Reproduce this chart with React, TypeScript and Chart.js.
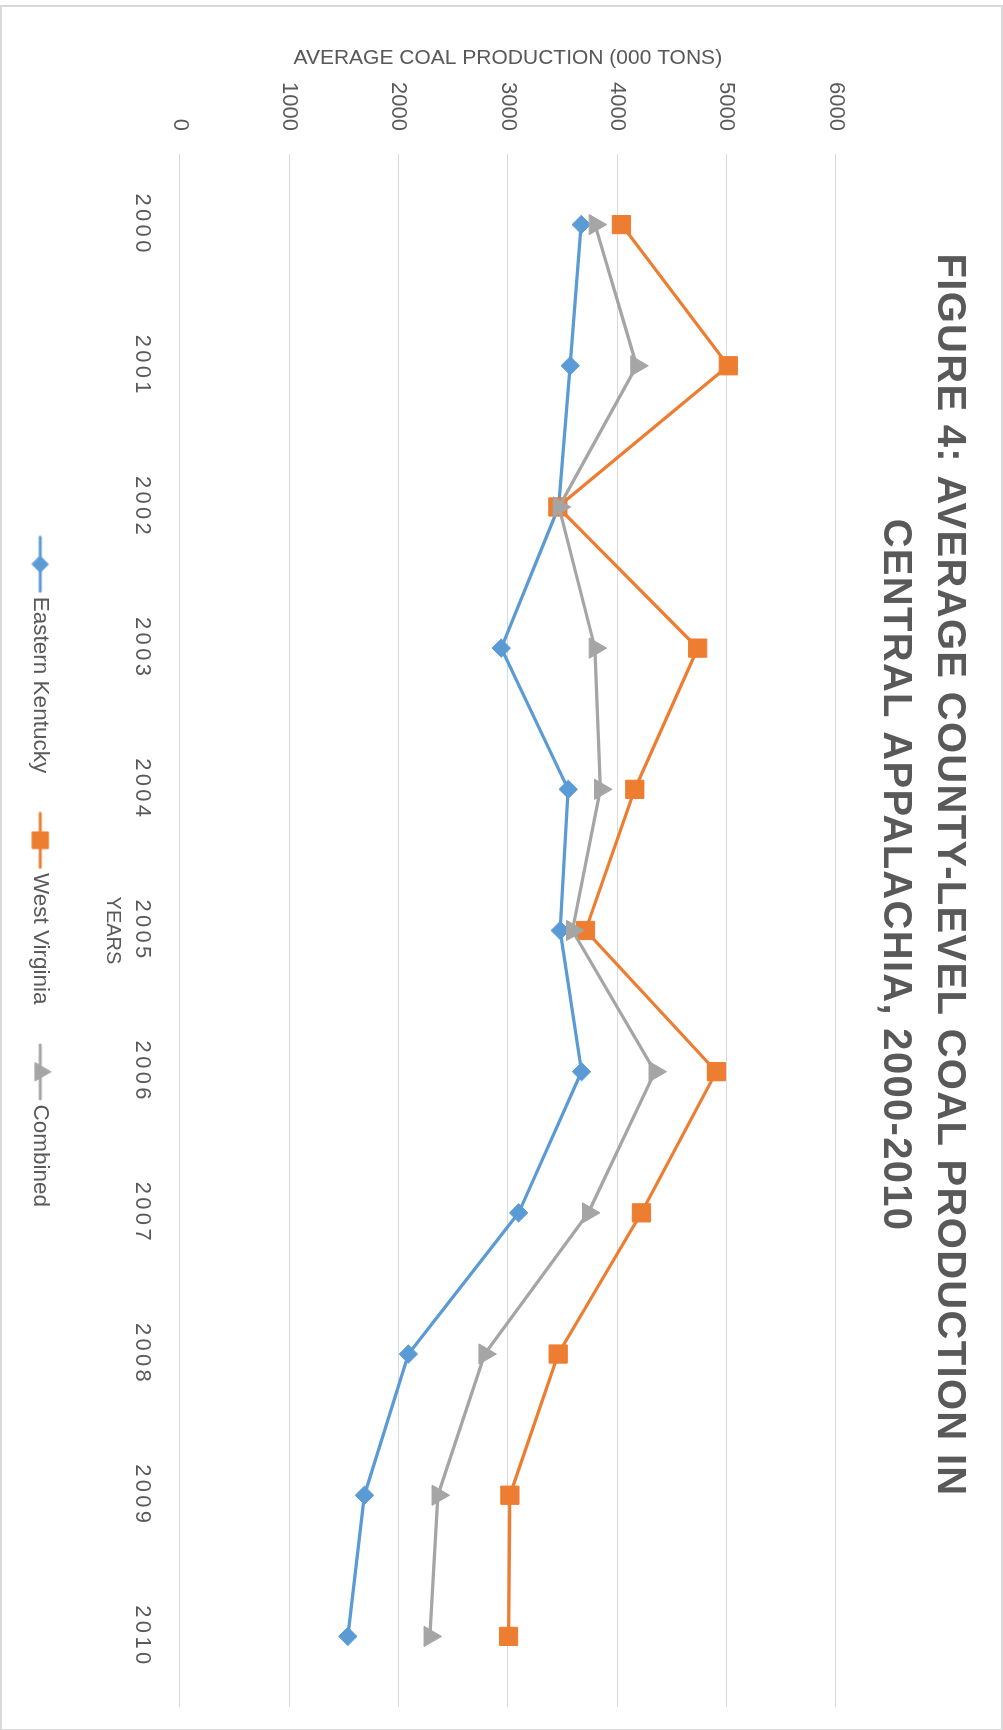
import React, { useEffect, useRef } from 'react';
import { Chart, registerables } from 'chart.js';
import { drawPoint } from 'chart.js/helpers';

Chart.register(...registerables);

// ---- data ----
const years = ['2000', '2001', '2002', '2003', '2004', '2005', '2006', '2007', '2008', '2009', '2010'];
const easternKentucky = [3672, 3571, 3465, 2940, 3553, 3480, 3675, 3099, 2090, 1688, 1536];
const westVirginia = [4040, 5018, 3458, 4738, 4162, 3711, 4909, 4223, 3461, 3019, 3007];
const combined = [3798, 4179, 3469, 3798, 3847, 3591, 4346, 3737, 2789, 2360, 2287];
const valueMin = 0;
const valueMax = 6000;
const valueStep = 1000;
const titleLines = ['FIGURE 4: AVERAGE COUNTY-LEVEL COAL PRODUCTION IN', 'CENTRAL APPALACHIA, 2000-2010'];
const seriesNames = ['Eastern Kentucky', 'West Virginia', 'Combined'];

const BLUE = '#5B9BD5';
const ORANGE = '#ED7D31';
const GRAY = '#A5A5A5';
const TEXT = '#595959';
const GRID = '#D9D9D9';
const FONT = "'Liberation Sans', Arial, sans-serif";

function legendIcon(color: string, style: string, radius: number) {
  const c = document.createElement('canvas');
  c.width = 58;
  c.height = 26;
  const g = c.getContext('2d')!;
  g.strokeStyle = color;
  g.lineWidth = 3;
  g.lineCap = 'round';
  g.beginPath();
  g.moveTo(2, 13);
  g.lineTo(56, 13);
  g.stroke();
  g.fillStyle = color;
  g.lineWidth = 1;
  drawPoint(g as any, { pointStyle: style as any, radius, borderWidth: 1, rotation: 0 } as any, 29, 13);
  return c;
}

function wrapWithSpacing(obj: any, method: string, spacing: string) {
  if (!obj || obj['__spaced_' + method]) return;
  const orig = obj[method].bind(obj);
  obj[method] = (...args: any[]) => {
    const ctx = obj.ctx;
    ctx.save();
    (ctx as any).letterSpacing = spacing;
    orig(...args);
    ctx.restore();
  };
  obj['__spaced_' + method] = true;
}

const spacingPlugin = {
  id: 'letterSpacing',
  beforeDraw(chart: any) {
    wrapWithSpacing(chart.scales.x, 'drawLabels', '3.3px');
    wrapWithSpacing(chart.titleBlock, 'draw', '1.3px');
  },
};

export default function App() {
  const ref = useRef<HTMLCanvasElement>(null);

  useEffect(() => {
    const canvas = ref.current!;
    const icons = [
      legendIcon(BLUE, 'rectRot', 8.3),
      legendIcon(ORANGE, 'rect', 11.5),
      legendIcon(GRAY, 'triangle', 10.5),
    ];
    const colors = [BLUE, ORANGE, GRAY];

    const ds = (i: number, data: number[], style: string, r: number, order: number) => ({
      label: seriesNames[i],
      data,
      borderColor: colors[i],
      backgroundColor: colors[i],
      borderWidth: 3.25,
      tension: 0,
      pointStyle: style,
      pointRadius: r,
      pointHoverRadius: r,
      pointBorderWidth: 1,
      pointBackgroundColor: colors[i],
      pointBorderColor: colors[i],
      order,
      xAxisID: 'x',
      yAxisID: 'y',
    });

    const chart = new Chart(canvas, {
      type: 'line',
      data: {
        labels: years,
        datasets: [
          ds(0, easternKentucky, 'rectRot', 9.2, 3),
          ds(1, westVirginia, 'rect', 12.9, 2),
          ds(2, combined, 'triangle', 11.7, 1),
        ] as any,
      },
      options: {
        animation: false,
        responsive: false,
        events: [],
        layout: { padding: { left: 14, right: 0, top: 0, bottom: 17 } },
        plugins: {
          title: {
            display: true,
            text: titleLines,
            color: TEXT,
            font: { family: FONT, size: 40, weight: 'bold', lineHeight: 54 / 40 },
            padding: { top: 25, bottom: 32.4 },
          },
          legend: {
            display: true,
            position: 'bottom',
            labels: {
              usePointStyle: true,
              pointStyleWidth: 42.5,
              padding: 46,
              color: TEXT,
              font: { family: FONT, size: 22.5 },
              generateLabels: () =>
                seriesNames.map((name, i) => ({
                  text: name,
                  pointStyle: icons[i] as any,
                  datasetIndex: i,
                  hidden: false,
                  lineWidth: 0,
                  fontColor: TEXT,
                  fillStyle: colors[i],
                  strokeStyle: colors[i],
                })),
            },
          },
          tooltip: { enabled: false },
        },
        scales: {
          x: {
            type: 'category',
            offset: true,
            grid: { display: false },
            border: { display: false },
            ticks: {
              color: TEXT,
              font: { family: FONT, size: 22 },
              padding: 16.8,
              maxRotation: 0,
              minRotation: 0,
              autoSkip: false,
            },
            title: {
              display: true,
              text: 'YEARS',
              color: TEXT,
              font: { family: FONT, size: 20 },
              padding: { top: 0, bottom: 3 },
            },
            afterFit: (s: any) => {
              s.height = 82.5;
            },
          },
          y: {
            type: 'linear',
            position: 'left',
            min: valueMin,
            max: valueMax,
            ticks: {
              stepSize: valueStep,
              color: TEXT,
              font: { family: FONT, size: 22 },
              padding: 23,
              callback: (v: any) => String(v),
            },
            grid: { color: GRID, lineWidth: 1, drawTicks: false },
            border: { display: false },
            title: {
              display: true,
              text: 'AVERAGE COAL PRODUCTION (000 TONS)',
              color: TEXT,
              font: { family: FONT, size: 21 },
              padding: { top: 24.9, bottom: 0 },
            },
            afterFit: (s: any) => {
              s.width = 133;
            },
          },
          y2: {
            type: 'linear',
            position: 'right',
            display: true,
            grid: { display: false },
            border: { display: false },
            ticks: { display: false },
            afterFit: (s: any) => {
              s.width = 22;
            },
          },
        },
      } as any,
      plugins: [spacingPlugin as any],
    });
    return () => chart.destroy();
  }, []);

  return (
    <div style={{ position: 'absolute', left: 0, top: 0, width: 1003, height: 1730, overflow: 'hidden', background: '#fff' }}>
      <div
        style={{
          position: 'absolute',
          left: 0,
          top: 0,
          width: 1726,
          height: 1003,
          boxSizing: 'border-box',
          border: '2px solid #D9D9D9',
          background: '#fff',
          transformOrigin: '0 0',
          transform: 'translate(1003px, 5px) rotate(90deg)',
        }}
      >
        <canvas ref={ref} width={1722} height={999} style={{ display: 'block', width: 1722, height: 999 }} />
      </div>
    </div>
  );
}
